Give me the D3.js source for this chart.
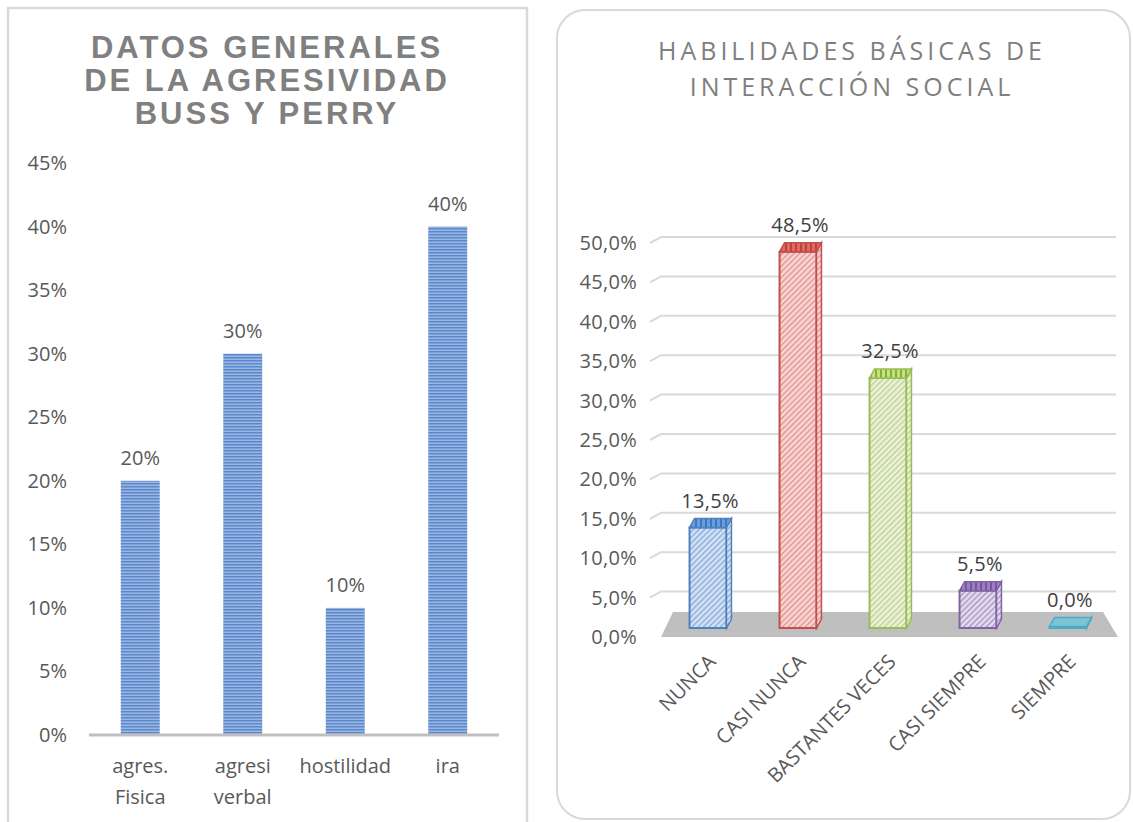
<!DOCTYPE html>
<html>
<head>
<meta charset="utf-8">
<script src="https://cdn.jsdelivr.net/npm/d3@7"></script>
<style>
  body { margin: 0; background: #fff; }
  text { font-family: "Open Sans", sans-serif; }
</style>
</head>
<body>
<div id="chart"></div>
<script>
// left chart: agresividad
const agrCategories = [["agres.", "Fisica"], ["agresi", "verbal"], ["hostilidad"], ["ira"]];
const agrValues = [20, 30, 10, 40];
const agrTicks = [0, 5, 10, 15, 20, 25, 30, 35, 40, 45];
const agrTitle = ["DATOS GENERALES", "DE LA AGRESIVIDAD", "BUSS Y PERRY"];

// right chart: habilidades
const habCategories = ["NUNCA", "CASI NUNCA", "BASTANTES VECES", "CASI SIEMPRE", "SIEMPRE"];
const habValues = [13.5, 48.5, 32.5, 5.5, 0.0];
const habTicks = [0, 5, 10, 15, 20, 25, 30, 35, 40, 45, 50];
const habTitle = ["HABILIDADES BÁSICAS DE", "INTERACCIÓN SOCIAL"];
const habColors = [
  { stroke: "#4f81bd", light: "#d3e2f4", hatch: "#86a9d8" },
  { stroke: "#c0504d", light: "#f7d6d5", hatch: "#e38f8c" },
  { stroke: "#9bbb59", light: "#ebf2d9", hatch: "#bcd18c" },
  { stroke: "#8064a2", light: "#e3dcee", hatch: "#a791c4" },
  { stroke: "#4bacc6", light: "#7cc3d4", hatch: "#4bacc6" }
];

const width = 1133, height = 822;
const es = d3.formatLocale({ decimal: ",", thousands: ".", grouping: [3], currency: ["", "€"] });
const pct0 = es.format(".0%"), pct1 = es.format(".1%");

const svg = d3.select("#chart").append("svg")
    .attr("width", width)
    .attr("height", height);

const defs = svg.append("defs");

// horizontal stripes for left bars
const stripes = defs.append("pattern")
    .attr("id", "stripes")
    .attr("patternUnits", "userSpaceOnUse")
    .attr("width", 8).attr("height", 3);
stripes.append("rect").attr("width", 8).attr("height", 3).attr("fill", "#9ab7e3");
stripes.append("rect").attr("width", 8).attr("height", 1.5).attr("fill", "#5c87ca");

// diagonal hatches for right bars
habColors.forEach((c, i) => {
    const p = defs.append("pattern")
        .attr("id", "hatch" + i)
        .attr("patternUnits", "userSpaceOnUse")
        .attr("width", 4).attr("height", 4)
        .attr("patternTransform", "rotate(45)");
    p.append("rect").attr("width", 4).attr("height", 4).attr("fill", c.light);
    p.append("rect").attr("width", 1.3).attr("height", 4).attr("fill", c.hatch);

    const t = defs.append("pattern")
        .attr("id", "top" + i)
        .attr("patternUnits", "userSpaceOnUse")
        .attr("width", 5).attr("height", 4);
    t.append("rect").attr("width", 5).attr("height", 4).attr("fill", d3.color(c.stroke).brighter(0.6));
    t.append("rect").attr("width", 2).attr("height", 4).attr("fill", d3.color(c.stroke).darker(0.3));
});

// ---------------- left chart ----------------
svg.append("rect")
    .attr("x", 8).attr("y", 8)
    .attr("width", 519).attr("height", 830)
    .attr("fill", "#fff")
    .attr("stroke", "#d9d9d9")
    .attr("stroke-width", 2.5);

svg.append("g")
    .selectAll("text")
    .data(agrTitle)
    .join("text")
    .attr("x", 267)
    .attr("y", (d, i) => 58 + i * 33)
    .attr("text-anchor", "middle")
    .style("font-family", "'Liberation Sans', Arial, sans-serif")
    .style("font-weight", "bold")
    .style("font-size", "31px")
    .style("letter-spacing", "3px")
    .style("fill", "#808080")
    .text(d => d);

const xA = d3.scaleBand()
    .domain(agrCategories.map(d => d.join(" ")))
    .range([89, 499])
    .paddingInner(0.62)
    .paddingOuter(0.31);

const yA = d3.scaleLinear()
    .domain([0, 45])
    .range([735, 163]);

svg.append("g")
    .selectAll("text")
    .data(agrTicks)
    .join("text")
    .attr("x", 67)
    .attr("y", d => yA(d))
    .attr("dy", "0.35em")
    .attr("text-anchor", "end")
    .style("font-size", "20px")
    .style("fill", "#595959")
    .text(d => pct0(d / 100));

svg.append("g")
    .selectAll("rect")
    .data(agrValues)
    .join("rect")
    .attr("x", (d, i) => xA(agrCategories[i].join(" ")))
    .attr("width", xA.bandwidth())
    .attr("y", d => yA(d))
    .attr("height", d => yA(0) - yA(d))
    .attr("fill", "url(#stripes)");

svg.append("line")
    .attr("x1", 89).attr("x2", 499)
    .attr("y1", yA(0)).attr("y2", yA(0))
    .attr("stroke", "#bfbfbf")
    .attr("stroke-width", 3);

svg.append("g")
    .selectAll("text")
    .data(agrValues)
    .join("text")
    .attr("x", (d, i) => xA(agrCategories[i].join(" ")) + xA.bandwidth() / 2)
    .attr("y", d => yA(d) - 16)
    .attr("text-anchor", "middle")
    .style("font-size", "20px")
    .style("fill", "#595959")
    .text(d => pct0(d / 100));

const catLabels = svg.append("g")
    .selectAll("text")
    .data(agrCategories)
    .join("text")
    .attr("x", d => xA(d.join(" ")) + xA.bandwidth() / 2)
    .attr("y", 773)
    .attr("text-anchor", "middle")
    .style("font-size", "20px")
    .style("fill", "#595959");
catLabels.selectAll("tspan")
    .data(d => d)
    .join("tspan")
    .attr("x", function () { return this.parentNode.getAttribute("x"); })
    .attr("dy", (d, i) => i === 0 ? 0 : 31)
    .text(d => d);

// ---------------- right chart ----------------
svg.append("rect")
    .attr("x", 557).attr("y", 10)
    .attr("width", 573).attr("height", 809)
    .attr("rx", 28)
    .attr("fill", "#fff")
    .attr("stroke", "#d9d9d9")
    .attr("stroke-width", 2);

svg.append("g")
    .selectAll("text")
    .data(habTitle)
    .join("text")
    .attr("x", 852)
    .attr("y", (d, i) => 60 + i * 36)
    .attr("text-anchor", "middle")
    .style("font-size", "25px")
    .style("letter-spacing", "4px")
    .style("fill", "#7f7f7f")
    .text(d => d);

const xH = d3.scaleBand()
    .domain(habCategories)
    .range([663, 1113])
    .paddingInner(0.59)
    .paddingOuter(0.295);

const yH = d3.scaleLinear()
    .domain([0, 50])
    .range([637, 243]);

const depthX = 5, depthY = 9, wallShift = 6;

// gridlines with short side-wall segment
svg.append("g")
    .selectAll("path")
    .data(habTicks.filter(d => d > 0))
    .join("path")
    .attr("d", d => {
        const y = yH(d);
        return `M${xH.range()[0] - 13},${y} L${xH.range()[0] - 2},${y - wallShift} L${xH.range()[1] + 3},${y - wallShift}`;
    })
    .attr("fill", "none")
    .attr("stroke", "#d9d9d9")
    .attr("stroke-width", 2);

svg.append("g")
    .selectAll("text")
    .data(habTicks)
    .join("text")
    .attr("x", 637)
    .attr("y", d => yH(d))
    .attr("dy", "0.35em")
    .attr("text-anchor", "end")
    .style("font-size", "20px")
    .style("letter-spacing", "0.3px")
    .style("fill", "#595959")
    .text(d => pct1(d / 100));

// floor
const f0 = yH(0), f1 = yH(0) - 25;
svg.append("path")
    .attr("d", `M${xH.range()[0] + 10},${f1} L${xH.range()[1] - 10},${f1} L${xH.range()[1] + 5},${f0} L${xH.range()[0] - 2},${f0} Z`)
    .attr("fill", "#bfbfbf");

// 3d bars
const barBottom = yH(0) - 9;
const barTop = v => yH(v) - 3;
const bars = svg.append("g")
    .selectAll("g")
    .data(habValues)
    .join("g");

bars.each(function (v, i) {
    const g = d3.select(this);
    const x0 = xH(habCategories[i]), w = xH.bandwidth();
    const top = Math.min(barTop(v), barBottom - 1.5);
    const c = habColors[i];
    // front
    g.append("rect")
        .attr("x", x0).attr("y", top)
        .attr("width", w).attr("height", barBottom - top)
        .attr("fill", `url(#hatch${i})`)
        .attr("stroke", c.stroke)
        .attr("stroke-width", 2);
    // side
    g.append("path")
        .attr("d", `M${x0 + w},${top} L${x0 + w + depthX},${top - depthY} L${x0 + w + depthX},${barBottom - depthY} L${x0 + w},${barBottom} Z`)
        .attr("fill", `url(#hatch${i})`)
        .attr("stroke", c.stroke)
        .attr("stroke-width", 1.5);
    // top
    g.append("path")
        .attr("d", `M${x0},${top} L${x0 + w},${top} L${x0 + w + depthX},${top - depthY} L${x0 + depthX},${top - depthY} Z`)
        .attr("fill", v > 0 ? `url(#top${i})` : c.light)
        .attr("stroke", c.stroke)
        .attr("stroke-width", 1.5);
});

svg.append("g")
    .selectAll("text")
    .data(habValues)
    .join("text")
    .attr("x", (d, i) => xH(habCategories[i]) + xH.bandwidth() / 2 + 2)
    .attr("y", d => Math.min(barTop(d), barBottom - 1.5) - depthY - 11)
    .attr("text-anchor", "middle")
    .style("font-size", "20px")
    .style("letter-spacing", "0.3px")
    .style("fill", "#404040")
    .text(d => pct1(d / 100));

svg.append("g")
    .selectAll("text")
    .data(habCategories)
    .join("text")
    .attr("transform", d => `translate(${xH(d) + xH.bandwidth() / 2 + 9},${yH(0) + 26}) rotate(-45)`)
    .attr("text-anchor", "end")
    .style("font-size", "20px")
    .style("fill", "#595959")
    .text(d => d);
</script>
</body>
</html>
